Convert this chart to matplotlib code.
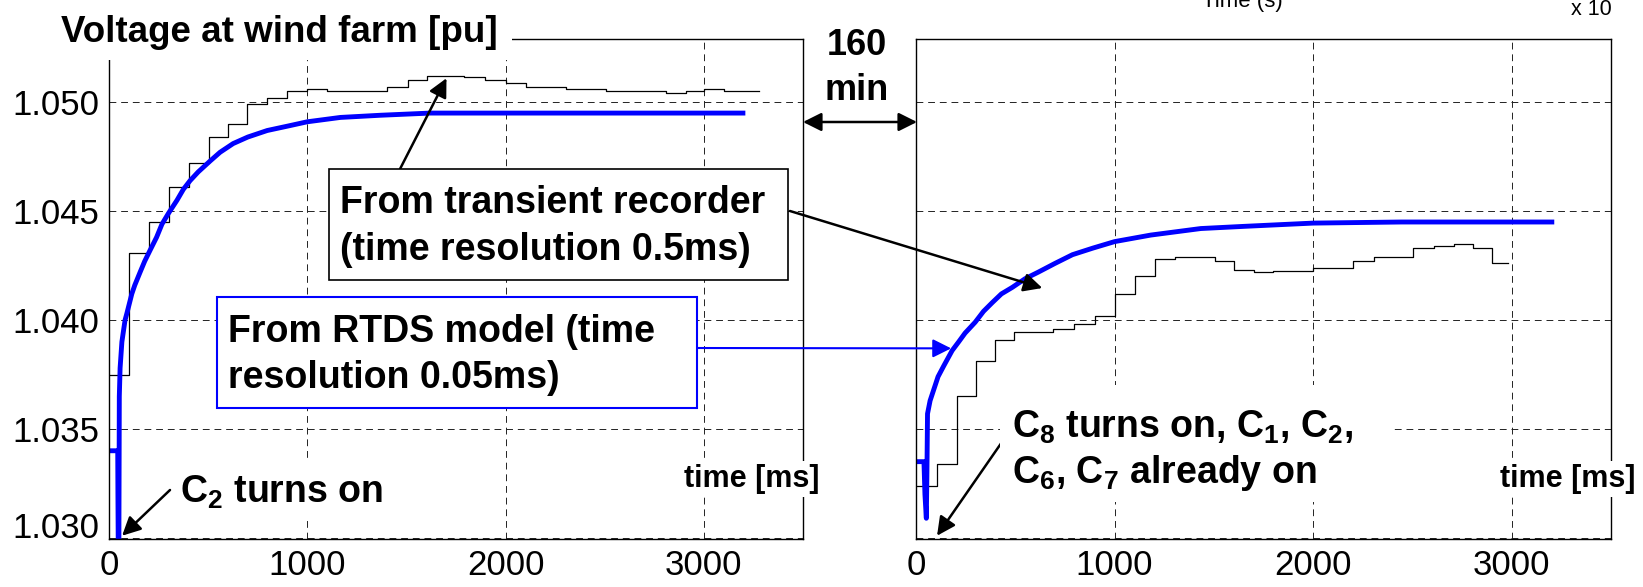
import matplotlib.pyplot as plt
from matplotlib.patches import Rectangle
from matplotlib.ticker import FormatStrFormatter

plt.rcParams['font.family'] = ['Liberation Sans', 'DejaVu Sans']
plt.rcParams['mathtext.fontset'] = 'custom'
plt.rcParams['mathtext.rm'] = 'Liberation Sans'
plt.rcParams['mathtext.bf'] = 'Liberation Sans:bold'

# event 1: C2 switched on (transient recorder = steps, RTDS = smooth)
t_rec_1 = [0, 101, 202, 303, 404, 505, 601, 697, 798, 899, 1000, 1101, 1404,
           1510, 1606, 1788, 1894, 2000, 2101, 2303, 2505, 2808, 2909, 3000,
           3101, 3278]
v_rec_1 = [1.0375, 1.0431, 1.0445, 1.0461, 1.0472, 1.0484, 1.0490, 1.0499,
           1.0502, 1.0505, 1.0506, 1.0505, 1.0507, 1.0510, 1.0512, 1.05115,
           1.0510, 1.0509, 1.0507, 1.0506, 1.0505, 1.0504, 1.0505, 1.0506,
           1.0505, 1.0505]
t_rtds_1 = [0, 44, 45, 47, 50, 52, 56, 65, 81, 90, 115, 130, 157, 180, 207,
            240, 267, 300, 343, 375, 409, 450, 510, 560, 626, 700, 798, 900,
            1000, 1167, 1369, 1621, 2000, 2500, 3197]
v_rtds_1 = [1.0340, 1.0340, 1.0320, 1.0290, 1.0300, 1.0365, 1.0378, 1.0390,
            1.0400, 1.0403, 1.0412, 1.0416, 1.0422, 1.0427, 1.0432, 1.0438,
            1.0444, 1.0449, 1.0455, 1.0460, 1.0464, 1.0468, 1.0473, 1.0477,
            1.0481, 1.0484, 1.0487, 1.0489, 1.0491, 1.0493, 1.0494, 1.0495,
            1.0495, 1.0495, 1.0495]

# event 2: C8 switched on, 160 min later
t_rec_2 = [0, 106, 207, 303, 399, 495, 692, 798, 899, 1000, 1101, 1202, 1303,
           1505, 1601, 1702, 1798, 2000, 2202, 2308, 2505, 2611, 2707, 2803,
           2899, 2980]
v_rec_2 = [1.0324, 1.0334, 1.0365, 1.0381, 1.0391, 1.03945, 1.0396, 1.0398,
           1.0402, 1.0412, 1.0420, 1.0428, 1.0429, 1.0427, 1.0423, 1.0422,
           1.04225, 1.0424, 1.0427, 1.0429, 1.0433, 1.0434, 1.0435, 1.0433,
           1.0426, 1.0426]
t_rtds_2 = [0, 40, 45, 52, 55, 58, 71, 111, 140, 182, 215, 247, 298, 340, 384,
            430, 485, 550, 616, 700, 788, 890, 1000, 1182, 1434, 1651, 2000,
            2444, 3202]
v_rtds_2 = [1.0335, 1.0335, 1.0320, 1.0309, 1.0330, 1.0357, 1.0363, 1.0374,
            1.0379, 1.0386, 1.0390, 1.0394, 1.0399, 1.0404, 1.0408, 1.0412,
            1.0415, 1.0419, 1.0422, 1.0426, 1.0430, 1.0433, 1.0436, 1.0439,
            1.0442, 1.0443, 1.04445, 1.0445, 1.0445]

x_ticks = [0, 1000, 2000, 3000]
y_ticks = [1.030, 1.035, 1.040, 1.045, 1.050]

W, H = 1643, 587
fig = plt.figure(figsize=(W / 100, H / 100), dpi=100)


def fx(X):
    return X / W


def fy(Y):
    return 1 - Y / H


ax1 = fig.add_axes([fx(109), fy(539), (803 - 109) / W, (539 - 39) / H])
ax2 = fig.add_axes([fx(916), fy(539), (1611 - 916) / W, (539 - 39) / H])

for ax, tr, vr, tm, vm in [(ax1, t_rec_1, v_rec_1, t_rtds_1, v_rtds_1),
                           (ax2, t_rec_2, v_rec_2, t_rtds_2, v_rtds_2)]:
    ax.step(tr, vr, where='post', color='k', lw=0.9)
    ax.plot(tm, vm, color='#0000ff', lw=3.5, solid_joinstyle='round')
    ax.set_xlim(0, 3500)
    ax.set_ylim(1.02995, 1.0529)
    ax.set_xticks(x_ticks)
    ax.set_yticks(y_ticks)
    ax.yaxis.set_major_formatter(FormatStrFormatter('%.3f'))
    ax.grid(True, color='#222222', ls=(0, (7, 5)), lw=0.7)
    ax.tick_params(length=0, labelsize=25, pad=7)
    for s in ax.spines.values():
        s.set_linewidth(1.0)
ax2.tick_params(labelleft=False)
# bottom label sits on its baseline, like MATLAB does
ax1.yaxis.get_major_ticks()[0].label1.set_va('baseline')

bold = dict(fontsize=27, fontweight='bold', va='baseline', ha='left', zorder=5)

# title with white patch over the frame
fig.add_artist(Rectangle((fx(55), fy(60)), (512 - 55) / W, 60 / H,
                         transform=fig.transFigure, fc='w', ec='none', zorder=3))
fig.text(fx(61), fy(42), 'Voltage at wind farm [pu]', **dict(bold, fontsize=26.5))

# transient recorder box
fig.add_artist(Rectangle((fx(329), fy(280)), (788 - 329) / W, (280 - 169) / H,
                         transform=fig.transFigure, fc='w', ec='k', lw=1.2, zorder=3))
fig.text(fx(340), fy(213), 'From transient recorder', **bold)
fig.text(fx(340), fy(260), '(time resolution 0.5ms)', **bold)

# RTDS box
fig.add_artist(Rectangle((fx(217), fy(408)), (697 - 217) / W, (408 - 297) / H,
                         transform=fig.transFigure, fc='w', ec='#0000ff', lw=1.5, zorder=3))
fig.text(fx(228), fy(342), 'From RTDS model (time', **bold)
fig.text(fx(228), fy(388), 'resolution 0.05ms)', **bold)

# switching notes
fig.add_artist(Rectangle((fx(172), fy(520)), (385 - 172) / W, (520 - 460) / H,
                         transform=fig.transFigure, fc='w', ec='none', zorder=3))
fig.text(fx(180), fy(503), r'$\mathbf{C_2}$ turns on', **bold)
fig.add_artist(Rectangle((fx(1000), fy(502)), (1393 - 1000) / W, (502 - 385) / H,
                         transform=fig.transFigure, fc='w', ec='none', zorder=3))
fig.text(fx(1012), fy(438), r'$\mathbf{C_8}$ turns on, $\mathbf{C_1}$, $\mathbf{C_2}$,', **bold)
fig.text(fx(1012), fy(483), r'$\mathbf{C_6}$, $\mathbf{C_7}$ already on', **bold)

# axis labels inside the frames
for X in (684, 1500):
    fig.text(fx(X), fy(487), 'time [ms]', fontsize=22, fontweight='bold',
             va='baseline', ha='left', zorder=5,
             bbox=dict(fc='w', ec='none', pad=2))

# gap between the two records
fig.text(fx(857), fy(55), '160', fontsize=26, fontweight='bold', ha='center', va='baseline')
fig.text(fx(857), fy(100), 'min', fontsize=26, fontweight='bold', ha='center', va='baseline')

# leftovers of the original axes labels at the top edge
fig.text(fx(1242), fy(7), 'Time (s)', fontsize=16, ha='center', va='baseline')
fig.text(fx(1612), fy(15), 'x 10', fontsize=15.5, ha='right', va='baseline')

arrow = dict(arrowstyle='-|>', color='k', lw=1.8, mutation_scale=28, shrinkA=0, shrinkB=0)
ax1.annotate('', xy=(fx(917), fy(122)), xycoords='figure fraction',
             xytext=(fx(803), fy(122)), textcoords='figure fraction',
             arrowprops=dict(arrow, arrowstyle='<|-|>'))
ax1.annotate('', xy=(1702, 1.0511), xytext=(fx(400), fy(169)),
             textcoords='figure fraction', arrowprops=arrow)
ax2.annotate('', xy=(636, 1.04147), xytext=(fx(790), fy(211)),
             textcoords='figure fraction', arrowprops=arrow)
ax2.annotate('', xy=(177, 1.0387), xytext=(fx(697), fy(348)),
             textcoords='figure fraction',
             arrowprops=dict(arrow, color='#0000ff', lw=1.5))
ax1.annotate('', xy=(66, 1.0301), xytext=(fx(170), fy(490)),
             textcoords='figure fraction', arrowprops=arrow)
ax2.annotate('', xy=(106, 1.0301), xytext=(fx(1002), fy(442)),
             textcoords='figure fraction', arrowprops=arrow)

fig.savefig('out.png', dpi=100)
